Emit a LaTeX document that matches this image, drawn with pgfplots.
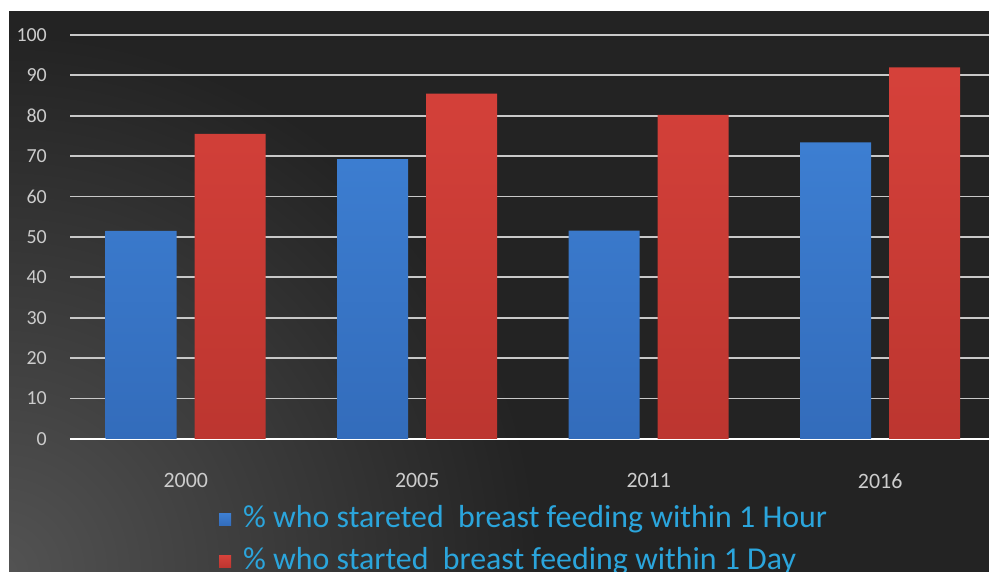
\documentclass[border=0pt]{standalone}
\usepackage{pgfplots}
\pgfplotsset{compat=1.18}
\usepackage{fontspec}
\setmainfont{Carlito}

\definecolor{bgdark}{HTML}{232323}
\definecolor{bglight}{HTML}{535353}
\definecolor{gridcol}{HTML}{C8C8C8}
\definecolor{ticktext}{HTML}{CCCCCC}
\definecolor{legtext}{HTML}{2BA5DC}
\definecolor{bluetop}{HTML}{4186DB}
\definecolor{bluebot}{HTML}{2E63B0}
\definecolor{bluehi}{HTML}{7FB2EE}
\definecolor{redtop}{HTML}{E0463F}
\definecolor{redbot}{HTML}{B0302A}
\definecolor{redhi}{HTML}{F07E76}

\pgfdeclareradialshading{bgshade}{\pgfpoint{0bp}{0bp}}{%
  color(0bp)=(bglight); color(540bp)=(bgdark); color(2000bp)=(bgdark)}
% bars: darker at the foot, a light bevel at the top
\pgfdeclareverticalshading{bluebar}{100bp}{%
  color(0bp)=(bluebot); color(96.5bp)=(bluetop); color(98.3bp)=(bluehi); color(100bp)=(bluetop)}
\pgfdeclareverticalshading{redbar}{100bp}{%
  color(0bp)=(redbot); color(96.5bp)=(redtop); color(98.3bp)=(redhi); color(100bp)=(redtop)}

\begin{document}
\begin{tikzpicture}
% page and dark chart area
\fill[white] (0bp,0bp) rectangle (989bp,572bp);
\begin{scope}
  \clip (9bp,0bp) rectangle (989bp,560bp);
  \fill[bgdark] (9bp,0bp) rectangle (989bp,560bp);
  \pgftransformshift{\pgfpoint{40bp}{10bp}}
  \pgfuseshading{bgshade}
\end{scope}

\begin{axis}[
    at={(70bp,133bp)}, anchor=south west,
    scale only axis,
    width=919bp, height=404bp,
    ybar,
    bar width=71bp,
    xmin=-0.5, xmax=3.47,
    ymin=0, ymax=100,
    xtick={0,1,2,3},
    xticklabels={2000,2005,2011,2016},
    ytick={0,10,...,100},
    /pgf/number format/assume math mode=true,
    major tick length=0pt,
    axis x line*=bottom,
    axis y line*=left,
    x axis line style={draw=white, line width=2.5bp, -},
    y axis line style={draw=none},
    ymajorgrids,
    grid style={draw=gridcol, line width=1.8bp},
    yticklabel style={font=\fontsize{20}{22}\selectfont, text=ticktext,
        anchor=east, inner sep=0pt, xshift=-23bp},
    xticklabel style={font=\fontsize{22}{24}\selectfont, text=ticktext,
        anchor=north, inner sep=0pt, yshift=-34bp},
    legend style={at={(0,0)}, anchor=north west, xshift=149bp, yshift=-66bp,
        draw=none, fill=none, inner sep=0pt, row sep=13bp, column sep=12bp,
        font=\fontsize{32}{36}\selectfont, text=legtext,
        nodes={inner sep=0pt, text height=22bp, text depth=7bp}},
    legend cell align=left,
    legend image code/.code={\fill[#1] (0bp,-6bp) rectangle (12bp,6bp);},
]
\addplot[draw=none, shading=bluebar, bar shift=-44.5bp]
    coordinates {(0,51.5) (1,69.3) (2,51.6) (3,73.4)};
\addplot[draw=none, shading=redbar, bar shift=44.5bp]
    coordinates {(0,75.5) (1,85.5) (2,80.2) (3,92.0)};
\legend{\% who stareted\hspace{0.45em}breast feeding within 1 Hour,
        \% who started\hspace{0.45em}breast feeding within 1 Day}
\end{axis}
\pgfresetboundingbox
\useasboundingbox (0bp,0bp) rectangle (989bp,572bp);
\end{tikzpicture}
\end{document}
